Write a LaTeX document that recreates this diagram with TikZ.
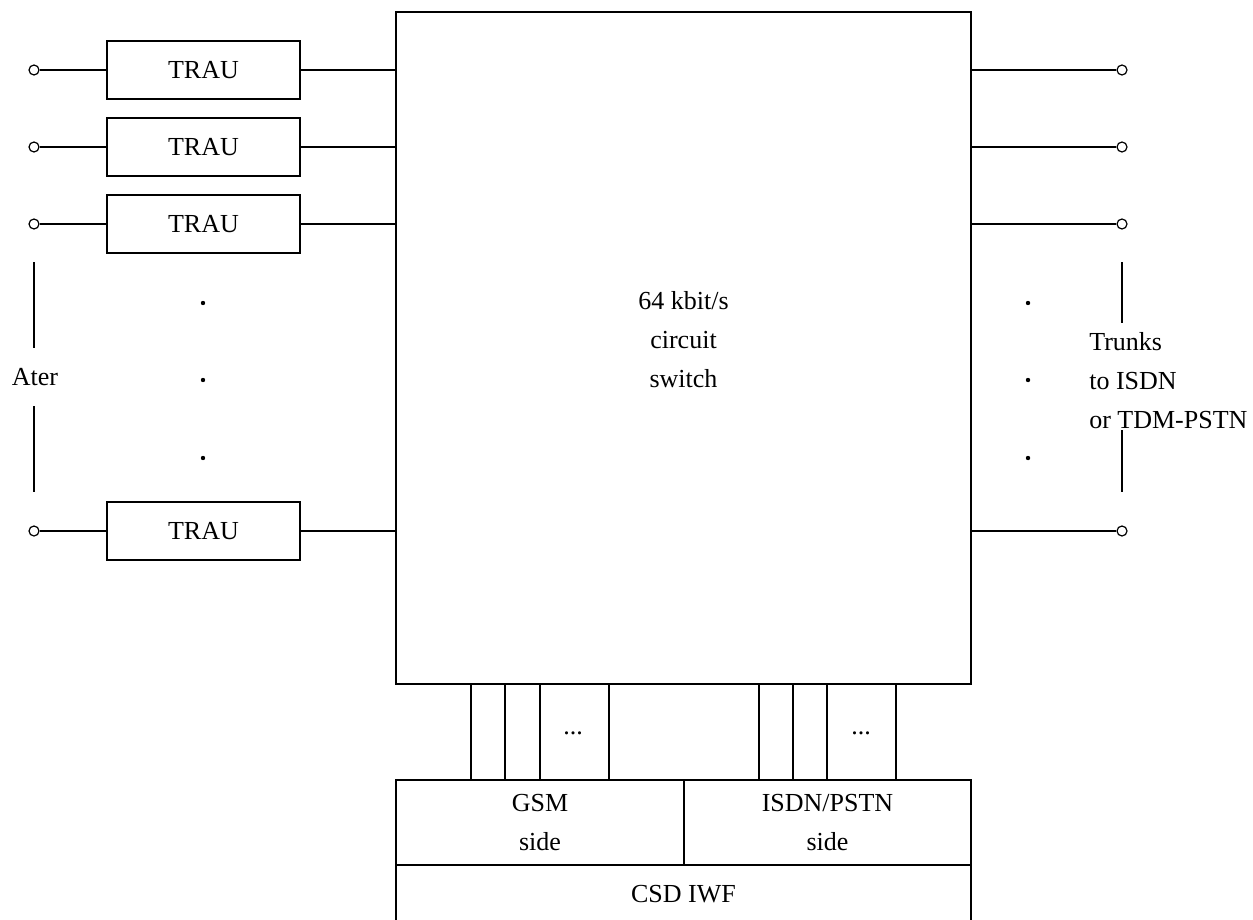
\documentclass[tikz,border=0pt]{standalone}
\usepackage{fontspec}
\setmainfont{Liberation Serif}
\begin{document}
\begin{tikzpicture}[x=0.5pt,y=-0.5pt,line width=0.6pt,
  every node/.style={font=\fontsize{13}{19.5}\selectfont},
  box/.style={draw,rectangle,inner sep=0pt},
  trau/.style={box,minimum width=96.5pt,minimum height=29pt},
  term/.style={draw,circle,inner sep=0pt,minimum size=5pt,fill=white},
  dotm/.style={fill=black}]
\useasboundingbox (0,0) rectangle (1253,920);
\clip (0,0) rectangle (1253,920);
% main switch
\node[box,minimum width=287.5pt,minimum height=336pt] (sw) at (683.5,348) {};
\node[align=center] (swt) at (683.5,340) {64 kbit/s\\circuit\\switch};
% TRAUs
\node[trau] (t1) at (203.5,70) {TRAU};
\node[trau] (t2) at (203.5,147) {TRAU};
\node[trau] (t3) at (203.5,224) {TRAU};
\node[trau] (t4) at (203.5,531) {TRAU};
% left terminals
\node[term] (l1) at (34,70) {};
\node[term] (l2) at (34,147) {};
\node[term] (l3) at (34,224) {};
\node[term] (l4) at (34,531) {};
\foreach \i in {1,2,3,4}{
  \draw (l\i) -- (t\i.west);
  \draw (t\i.east) -- (sw.west |- t\i);
}
% right terminals
\node[term] (r1) at (1122,70) {};
\node[term] (r2) at (1122,147) {};
\node[term] (r3) at (1122,224) {};
\node[term] (r4) at (1122,531) {};
\foreach \i in {1,2,3,4}{
  \draw (sw.east |- r\i) -- (r\i);
}
% dots
\foreach \y in {303,380,458}{
  \fill[dotm] (203,\y) circle (1.1pt);
  \fill[dotm] (1028,\y) circle (1.1pt);
}
% Ater label
\node (ater) at (35,377) {Ater};
\coordinate (a1) at (34,262);
\coordinate (a2) at (34,348);
\coordinate (a3) at (34,406);
\coordinate (a4) at (34,492);
\draw (a1) -- (a2);
\draw (a3) -- (a4);
% Trunks label
\node[anchor=west,align=left] (trk) at (1082,381) {Trunks\\to ISDN\\or TDM-PSTN};
\coordinate (b1) at (1122,262);
\coordinate (b2) at (1122,323);
\coordinate (b3) at (1122,430);
\coordinate (b4) at (1122,492);
\draw (b1) -- (b2);
\draw (b3) -- (b4);
% IWF
\node[box,minimum width=144pt,minimum height=42.5pt,align=center] (gsm) at (540,822.5) {GSM\\side};
\node[box,minimum width=143.5pt,minimum height=42.5pt,align=center] (isdn) at (827.5,822.5) {ISDN/PSTN\\side};
\node[box,minimum width=287.5pt,minimum height=29pt] (csd) at (683.5,894) {CSD IWF};
% channels
\foreach \x in {471,505,540,609,759,793,827,896}{
  \draw (sw.south -| \x,0) -- (gsm.north -| \x,0);
}
\node (d1) at (573,733) {...};
\node (d2) at (861,733) {...};
\end{tikzpicture}
\end{document}
